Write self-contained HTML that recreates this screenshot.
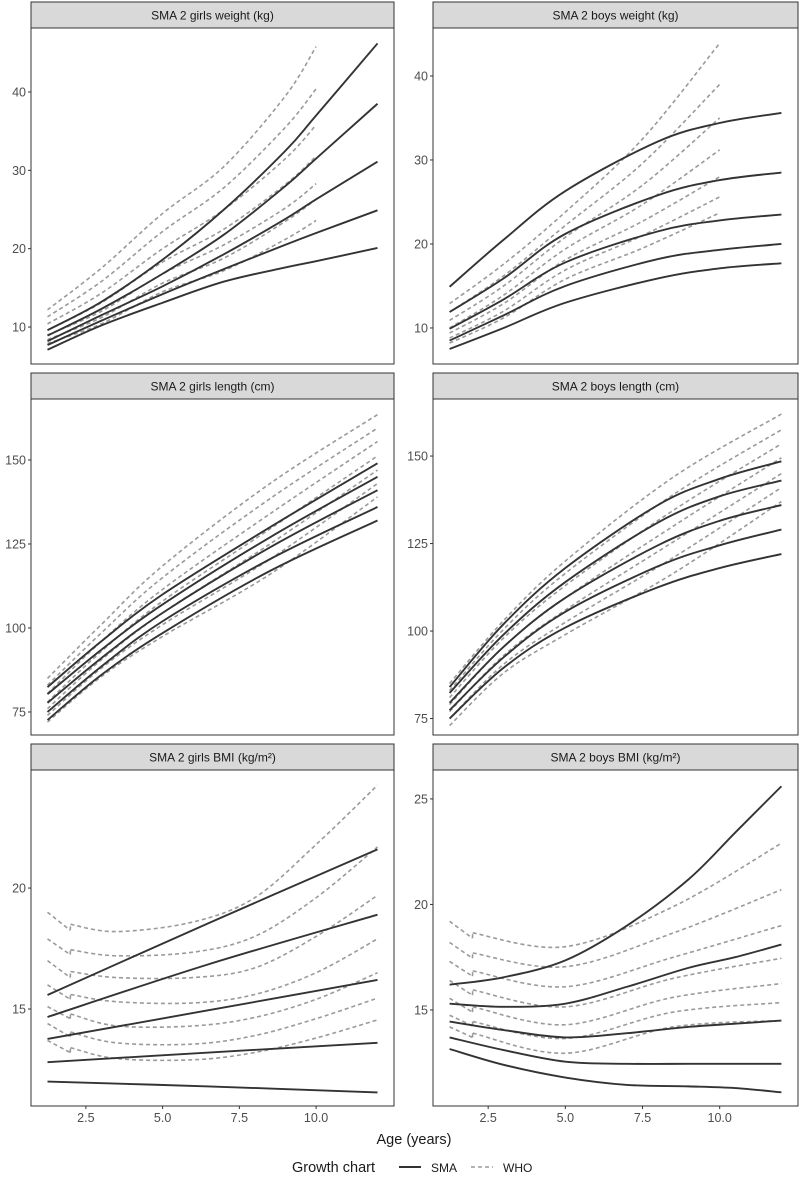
<!DOCTYPE html>
<html><head><meta charset="utf-8"><style>
body{margin:0;background:#fff;}
svg{display:block;font-family:"Liberation Sans",sans-serif;}
</style></head><body>
<svg id="chart" width="800" height="1180" viewBox="0 0 800 1180" xmlns="http://www.w3.org/2000/svg"></svg>
<script>
// ---------- data ----------
const titles = ["SMA 2 girls weight (kg)","SMA 2 boys weight (kg)","SMA 2 girls length (cm)","SMA 2 boys length (cm)","SMA 2 girls BMI (kg/m²)","SMA 2 boys BMI (kg/m²)"];
const xTicks = [2.5,5.0,7.5,10.0];
const yTicks = [[10,20,30,40],[10,20,30,40],[75,100,125,150],[75,100,125,150],[15,20],[15,20,25]];
const yDomains = [[5.28,48.17],[5.71,45.71],[68.15,168.15],[70.3,166.3],[10.99,24.88],[10.45,26.37]];

const smaAges1 = [1.25,3,5,7,9,10,12];
const smaVals1 = [[9.6,13.2,18.6,25,32.5,37,46.2],[8.9,12.3,16.8,21.8,28,31.5,38.5],[8.2,11.5,15.2,19.3,23.8,26.3,31.1],[7.7,10.8,14.2,17.4,20.5,22,24.9],[7.1,10.2,13.1,15.8,17.6,18.4,20.1]];
const whoAges1 = [1.25,3,5,7,9,10];
const whoVals1 = [[12.2,17.5,24.5,30.5,39.5,45.8],[11.3,15.8,22.2,27.8,35.5,40.4],[10.4,14.3,20,25,31.5,35.8],[9.6,13.1,18.3,22.5,28.2,31.8],[9,12,16.8,20.5,25.2,28.3],[8.4,11.2,15.6,18.8,23.5,26.3],[7.9,10.4,14.5,17.2,21.2,23.6]];

const smaAges2 = [1.25,3,5,8,10,12];
const smaVals2 = [[14.9,20.5,26.3,32.2,34.4,35.6],[11.9,15.9,21.2,25.8,27.6,28.5],[9.9,13.4,17.8,21.5,22.8,23.5],[8.5,11.5,15,18.2,19.3,20],[7.5,10,13,15.9,17.1,17.7]];
const whoAges2 = [1.25,3,5,7.5,10];
const whoVals2 = [[12.9,17.6,23.8,32.5,43.9],[11.9,16.2,22.2,29.6,39],[10.9,15,20.8,27,35],[10,13.9,19.4,24.7,31.2],[9.4,12.9,18.1,22.7,28],[8.8,12,16.9,21,25.6],[8.2,11.2,15.8,19.5,23.7]];

const smaAges3 = [1.25,3,5,8.5,12];
const smaVals3 = [[82.4,96,110,130,149],[80.3,93.5,107,127,145],[77.7,91,104.5,124,141],[75,88.5,102,120.5,136],[72.6,86,98.5,117,132]];
const whoAges3 = [1.25,3,5,8.5,12];
const whoVals3 = [[85,101,118.5,143,163.5],[83,98.5,115,138.5,159.5],[80.5,96,111.5,134,155.5],[78,93,108,129.5,151.2],[76,90.5,104.5,125,147],[74,88,101,120.5,143],[72,85.5,97.5,116,139]];

const smaAges4 = [1.25,3,5,8,10,12];
const smaVals4 = [[84,102,118,136,143.5,148.5],[82.3,99,114,131,138.5,143],[79.5,95.5,109.5,124.5,131.5,136],[77.4,92.5,105.5,118.5,124.5,129],[75,89.5,101,112.5,118,122]];
const whoAges4 = [1.25,3,5,8.5,12];
const whoVals4 = [[85,103,120,144,162],[83,100.5,116.5,139,157.5],[81,98,113,134.5,153.5],[79,95.5,109.5,130,149.5],[77,93,106,125.5,145],[75,90.5,102.5,121,141],[73,88,99,116.5,137]];

const smaAges5 = [1.25,6.5,12];
const smaVals5 = [[15.58,18.55,21.6],[14.67,16.85,18.9],[13.76,14.95,16.2],[12.8,13.2,13.6],[12.0,11.8,11.55]];
const whoAges5 = [1.25,1.99,2,3.5,6,8,10,12];
const whoVals5 = [[19.0,18.25,18.5,18.2,18.6,19.6,21.8,24.25],[17.9,17.25,17.45,17.2,17.35,18.0,19.6,21.7],[17.0,16.3,16.55,16.3,16.3,16.7,18.0,19.7],[16.0,15.4,15.6,15.3,15.25,15.6,16.5,17.9],[15.1,14.6,14.8,14.3,14.3,14.65,15.4,16.5],[14.4,13.85,14.05,13.6,13.55,13.9,14.6,15.45],[13.7,13.2,13.4,12.95,12.9,13.2,13.8,14.55]];

const smaAges6 = [1.25,3,5,7,9,10.5,12];
const smaVals6 = [[16.2,16.55,17.35,19.0,21.2,23.4,25.6],[15.3,15.15,15.3,16.1,17.0,17.5,18.1],[14.45,14.05,13.7,13.9,14.2,14.35,14.5],[13.7,13.1,12.55,12.45,12.45,12.45,12.45],[13.15,12.4,11.8,11.45,11.38,11.3,11.1]];
const whoAges6 = [1.25,1.99,2,5,8.5,12];
const whoVals6 = [[19.2,18.4,18.65,18.0,19.9,22.9],[18.2,17.45,17.7,17.05,18.65,20.7],[17.3,16.6,16.85,16.1,17.5,19.0],[16.4,15.7,15.95,15.15,16.5,17.45],[15.55,14.9,15.15,14.3,15.6,16.25],[14.75,14.25,14.45,13.65,14.9,15.35],[14.2,13.7,13.9,12.95,14.2,14.5]];

const smaAges = [smaAges1,smaAges2,smaAges3,smaAges4,smaAges5,smaAges6];
const smaVals = [smaVals1,smaVals2,smaVals3,smaVals4,smaVals5,smaVals6];
const whoAges = [whoAges1,whoAges2,whoAges3,whoAges4,whoAges5,whoAges6];
const whoVals = [whoVals1,whoVals2,whoVals3,whoVals4,whoVals5,whoVals6];

// ---------- layout ----------
const NS = "http://www.w3.org/2000/svg";
const svg = document.getElementById("chart");
const colX = [[31,394],[433,798]];
const rowY = [[2,28,364],[373,399,735],[744,770,1106]];
const xDom = [0.7125,12.5375];

function mk(tag, attrs, parent){
  const e = document.createElementNS(NS, tag);
  for (const k in attrs) e.setAttribute(k, attrs[k]);
  (parent||svg).appendChild(e);
  return e;
}
function spline(pts){
  if (pts.length<2) return "";
  let d = "M"+pts[0][0].toFixed(2)+","+pts[0][1].toFixed(2);
  for (let i=0;i<pts.length-1;i++){
    const p0=pts[Math.max(0,i-1)], p1=pts[i], p2=pts[i+1], p3=pts[Math.min(pts.length-1,i+2)];
    const c1x=p1[0]+(p2[0]-p0[0])/6, c1y=p1[1]+(p2[1]-p0[1])/6;
    const c2x=p2[0]-(p3[0]-p1[0])/6, c2y=p2[1]-(p3[1]-p1[1])/6;
    d += " C"+c1x.toFixed(2)+","+c1y.toFixed(2)+" "+c2x.toFixed(2)+","+c2y.toFixed(2)+" "+p2[0].toFixed(2)+","+p2[1].toFixed(2);
  }
  return d;
}
function seriesPath(ages, vals, xs, ys){
  let pieces=[[]], d="";
  for (let i=0;i<ages.length;i++){
    if (i>0 && ages[i]-ages[i-1]<0.05){
      const a=[xs(ages[i-1]),ys(vals[i-1])], b=[xs(ages[i]),ys(vals[i])];
      d += " M"+a[0]+","+a[1]+" L"+b[0]+","+b[1];
      pieces.push([]);
    }
    pieces[pieces.length-1].push([xs(ages[i]), ys(vals[i])]);
  }
  pieces.forEach(p=>{ d = spline(p)+" "+d; });
  return d;
}

for (let p=0;p<6;p++){
  const col=p%2, row=Math.floor(p/2);
  const [x0,x1]=colX[col], [sTop,pTop,pBot]=rowY[row];
  const g = mk("g",{});
  
  
  const xs = a => x0 + (a-xDom[0])/(xDom[1]-xDom[0])*(x1-x0);
  const yd = yDomains[p];
  const ys = v => pBot - (v-yd[0])/(yd[1]-yd[0])*(pBot-pTop);

  const strip = mk("rect",{x:x0,y:sTop,width:x1-x0,height:pTop-sTop,fill:"#d9d9d9",stroke:"#333","stroke-width":1},g);
  
  
  const st = mk("text",{x:(x0+x1)/2,y:sTop+17.5,"text-anchor":"middle","font-size":"12",fill:"#1a1a1a"},g);
  st.textContent = titles[p];
  
  

  whoVals[p].forEach(v=>{
    const e = mk("path",{d:seriesPath(whoAges[p],v,xs,ys),fill:"none",stroke:"#9a9a9a","stroke-width":1.6,"stroke-dasharray":"4,3"},g);
    
    
  });
  smaVals[p].forEach(v=>{
    const e = mk("path",{d:seriesPath(smaAges[p],v,xs,ys),fill:"none",stroke:"#333","stroke-width":1.9},g);
    
    
  });

  const frame = mk("rect",{x:x0,y:pTop,width:x1-x0,height:pBot-pTop,fill:"none",stroke:"#333","stroke-width":1},g);
  
  

  yTicks[p].forEach(t=>{
    const y=ys(t);
    mk("line",{x1:x0-3,x2:x0,y1:y,y2:y,stroke:"#333","stroke-width":1},g);
    const lt = mk("text",{x:x0-5,y:y+4.5,"text-anchor":"end","font-size":"12.5",fill:"#4d4d4d"},g);
    lt.textContent = t;
    
    
  });
  if (row===2){
    xTicks.forEach(t=>{
      const x=xs(t);
      mk("line",{x1:x,x2:x,y1:pBot,y2:pBot+3,stroke:"#333","stroke-width":1},g);
      const lt = mk("text",{x:x,y:pBot+16,"text-anchor":"middle","font-size":"12.5",fill:"#4d4d4d"},g);
      lt.textContent = t.toFixed(1);
      
      
    });
  }
}
const xt = mk("text",{x:414,y:1144,"text-anchor":"middle","font-size":"14.5",fill:"#1a1a1a"});
xt.textContent = "Age (years)";



const lg = mk("g",{});


const lt0 = mk("text",{x:292,y:1172,"font-size":"14.5",fill:"#1a1a1a"},lg);
lt0.textContent = "Growth chart";


mk("line",{x1:399,x2:421,y1:1167,y2:1167,stroke:"#333","stroke-width":1.9},lg);
const lt1 = mk("text",{x:431,y:1172,"font-size":"12",fill:"#1a1a1a"},lg);
lt1.textContent = "SMA";


mk("line",{x1:471,x2:493,y1:1167,y2:1167,stroke:"#9a9a9a","stroke-width":1.6,"stroke-dasharray":"4,3"},lg);
const lt2 = mk("text",{x:503,y:1172,"font-size":"12",fill:"#1a1a1a"},lg);
lt2.textContent = "WHO";


</script>
</body></html>
